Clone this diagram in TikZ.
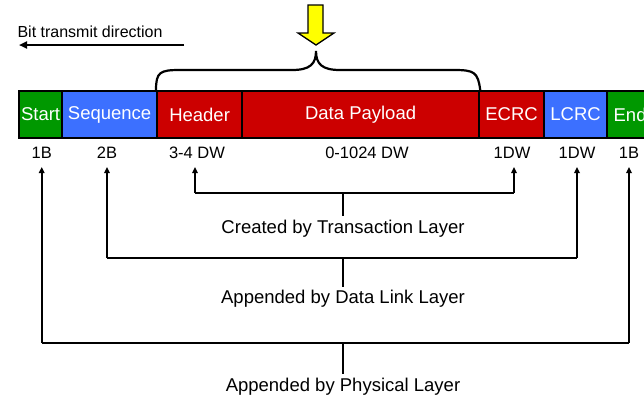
\documentclass[tikz,border=0pt]{standalone}
\usepackage{fontspec}
\setmainfont{Liberation Sans}
\usetikzlibrary{arrows.meta}
\definecolor{cellgreen}{RGB}{0,152,0}
\definecolor{cellblue}{RGB}{60,112,255}
\definecolor{cellred}{RGB}{204,0,0}
\definecolor{arrowyellow}{RGB}{255,255,0}
\tikzset{
  cell/.style={draw=black, line width=2.2pt, anchor=north west, minimum height=47pt,
    inner sep=0pt, text=white, font=\fontsize{18.5}{20}\selectfont},
  size/.style={font=\fontsize{16.5}{18}\selectfont, text=black},
  layer/.style={font=\fontsize{18.5}{20}\selectfont, text=black},
  link/.style={line width=2.1pt, black},
  up/.style={link, -{Triangle[width=5.5pt,length=6pt]}},
}
\begin{document}
\begin{tikzpicture}[x=1pt,y=-1pt]
\clip (0,0) rectangle (644,400);
\fill[white] (0,0) rectangle (644,400);

% transmit direction
\node[font=\fontsize{16}{18}\selectfont, anchor=west] (dir) at (14,31.5) {Bit transmit direction};
\coordinate (dirS) at (184,45);
\coordinate (dirE) at (19,45);
\draw[link, -{Triangle[width=7pt,length=8pt]}] (dirS) -- (dirE);

% packet fields
\node[cell, fill=cellgreen, minimum width=43pt] (start) at (18,90) {Start};
\node[cell, fill=cellblue,  minimum width=95pt] (seq)   at (61,90) {Sequence};
\node[cell, fill=cellred,   minimum width=85pt] (hdr)   at (156,90) {Header};
\node[cell, fill=cellred,   minimum width=237pt] (data) at (241,90) {Data Payload};
\node[cell, fill=cellred,   minimum width=65pt] (ecrc)  at (478,90) {ECRC};
\node[cell, fill=cellblue,  minimum width=63pt] (lcrc)  at (543,90) {LCRC};
\node[cell, fill=cellgreen, minimum width=46pt] (endf)  at (606,90) {End};

% field sizes
\node[size] (s1) at (41.7,152.5) {1B};
\node[size] (s2) at (107,152.5) {2B};
\node[size] (s3) at (197,152.5) {3-4 DW};
\node[size] (s4) at (367,152.5) {0-1024 DW};
\node[size] (s5) at (512,152.5) {1DW};
\node[size] (s6) at (577,152.5) {1DW};
\node[size] (s7) at (629,152.5) {1B};

% brace over the TLP part
\draw[line width=2.2pt, black] (hdr.north west)
  .. controls (156,72) and (160,70) .. (180,70) -- (292,70)
  .. controls (310,70) and (316,64) .. (316,51)
  .. controls (316,64) and (322,70) .. (340,70) -- (454,70)
  .. controls (474,70) and (478,72) .. (data.north east);

% yellow marker arrow
\draw[line width=1.3pt, fill=arrowyellow] (308,5) -- (323,5) -- (323,33) -- (334,33)
  -- (316,45) -- (298,33) -- (308,33) -- cycle;

% layer brackets
\node[layer] (tl) at (343,228.5) {Created by Transaction Layer};
\node[layer] (dl) at (343,299) {Appended by Data Link Layer};
\node[layer] (pl) at (343,386.5) {Appended by Physical Layer};

\coordinate (tlL) at (195,193);
\coordinate (tlR) at (514,193);
\coordinate (tlM) at (343,193);
\draw[up] (tlL) -- (195,167);
\draw[up] (tlR) -- (514,167);
\draw[link] (tlL) -- (tlR);
\draw[link] (tlM) -- (tl.north);

\coordinate (dlL) at (107,258);
\coordinate (dlR) at (577,258);
\coordinate (dlM) at (343,258);
\draw[up] (dlL) -- (107,167);
\draw[up] (dlR) -- (577,167);
\draw[link] (dlL) -- (dlR);
\draw[link] (dlM) -- (dl.north);

\coordinate (plL) at (41.7,343);
\coordinate (plR) at (629,343);
\coordinate (plM) at (343,343);
\draw[up] (plL) -- (41.7,167);
\draw[up] (plR) -- (629,167);
\draw[link] (plL) -- (plR);
\draw[link] (plM) -- (pl.north);
\end{tikzpicture}
\end{document}
